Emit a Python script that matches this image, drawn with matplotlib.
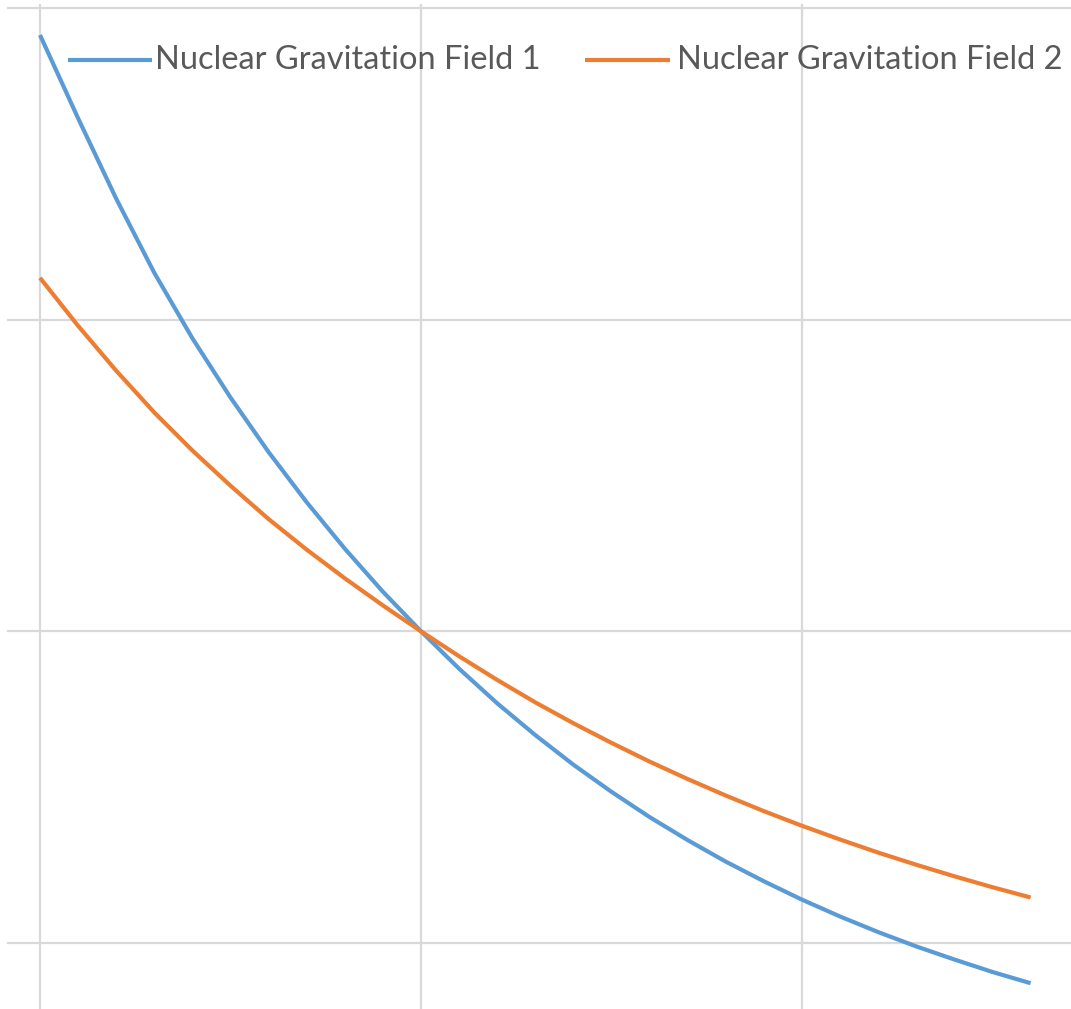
import matplotlib.pyplot as plt

# values (x in grid units, y in grid units)
x_vals = [0.0, 0.1, 0.2, 0.3, 0.4, 0.5, 0.6, 0.7, 0.8, 0.9, 1.0, 1.1, 1.2, 1.3,
          1.4, 1.5, 1.6, 1.7, 1.8, 1.9, 2.0, 2.1, 2.2, 2.3, 2.4, 2.5, 2.6]
field_1 = [2.913, 2.646, 2.388, 2.150, 1.940, 1.750, 1.575, 1.414, 1.265, 1.127,
           1.000, 0.880, 0.769, 0.667, 0.572, 0.485, 0.404, 0.330, 0.261, 0.198,
           0.139, 0.085, 0.035, -0.011, -0.053, -0.093, -0.129]
field_2 = [2.134, 1.980, 1.836, 1.702, 1.580, 1.467, 1.360, 1.262, 1.170, 1.083,
           1.000, 0.920, 0.844, 0.772, 0.705, 0.642, 0.582, 0.526, 0.473, 0.423,
           0.376, 0.332, 0.290, 0.251, 0.214, 0.179, 0.146]
labels = ["Nuclear Gravitation Field 1", "Nuclear Gravitation Field 2"]
x_grid = [0, 1, 2]
y_grid = [0, 1, 2, 3]

blue = "#5B9BD5"
orange = "#ED7D31"
grid_col = "#D9D9D9"

W, H = 1071, 1009
fig = plt.figure(figsize=(W / 100, H / 100), dpi=100)
ax = fig.add_axes([0, 0, 1, 1])

# pixel -> data mapping: x=0 at px 40, 381 px per unit; y=0 at px 943, 311.7 px per unit
ax.set_xlim(-40 / 381, (W - 40) / 381)
ax.set_ylim((943 - H) / 311.7, 943 / 311.7)

# gridlines (horizontal ones start a little left of the first vertical one)
for gy in y_grid:
    ax.axhline(gy, xmin=8 / W, xmax=1, color=grid_col, lw=1.6, zorder=1)
for gx in x_grid:
    ax.axvline(gx, ymin=0, ymax=1 - 5 / H, color=grid_col, lw=1.6, zorder=1)

ax.plot(x_vals, field_1, color=blue, lw=3.0, solid_capstyle="butt", zorder=3)
ax.plot(x_vals, field_2, color=orange, lw=3.0, solid_capstyle="butt", zorder=3)

# legend drawn by hand to sit where the original one is
ly = 1 - 60 / H
for (x0, x1, tx), col, lab in zip([(68, 152, 155), (585, 670, 677)], [blue, orange], labels):
    ax.plot([x0 / W, x1 / W], [ly, ly], color=col, lw=3.0, transform=ax.transAxes,
            solid_capstyle="butt", zorder=4)
    ax.text(tx / W, ly, lab, transform=ax.transAxes, va="center", ha="left",
            fontsize=23.5, color="#595959", family="Lato", zorder=4)

ax.axis("off")
fig.savefig("out.png", dpi=100)
